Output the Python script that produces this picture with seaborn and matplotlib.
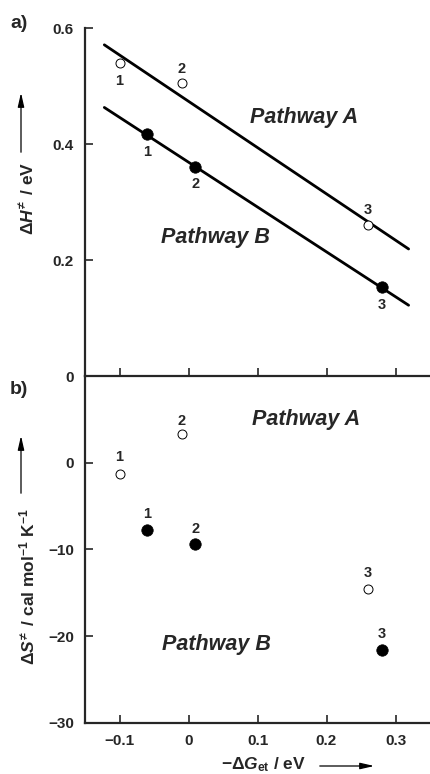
import matplotlib
matplotlib.use("Agg")
import matplotlib.pyplot as plt
from matplotlib.patches import FancyArrowPatch
import seaborn as sns

# ---------------- data ----------------
dG = [-0.10, -0.01, 0.26]            # -ΔG_et for pathway A (open)
dG_B = [-0.06, 0.01, 0.28]           # -ΔG_et for pathway B (filled)
dH_A = [0.539, 0.505, 0.260]
dH_B = [0.417, 0.361, 0.153]
dS_A = [-1.3, 3.3, -14.6]
dS_B = [-7.8, -9.4, -21.6]
point_labels = ["1", "2", "3"]
lineA_x = [-0.122, 0.319]
lineA_y = [0.571, 0.219]
lineB_x = [-0.122, 0.319]
lineB_y = [0.463, 0.122]
x_ticks = [-0.1, 0, 0.1, 0.2, 0.3]
x_ticklabels = ["\u22120.1", "0", "0.1", "0.2", "0.3"]
yH_ticks = [0, 0.2, 0.4, 0.6]
yH_ticklabels = ["0", "0.2", "0.4", "0.6"]
yS_ticks = [-30, -20, -10, 0]
yS_ticklabels = ["\u221230", "\u221220", "\u221210", "0"]

sns.set_style("ticks")
plt.rcParams["font.family"] = ["Liberation Sans", "DejaVu Sans"]
plt.rcParams["font.weight"] = "bold"
plt.rcParams["mathtext.fontset"] = "custom"
plt.rcParams["mathtext.rm"] = "Liberation Sans:bold"
plt.rcParams["mathtext.bf"] = "Liberation Sans:bold"
plt.rcParams["mathtext.it"] = "Liberation Sans:bold:italic"
plt.rcParams["mathtext.default"] = "rm"

W, H = 430, 774
fig = plt.figure(figsize=(W / 100, H / 100), dpi=100)

left = 85 / W
y_top = 1 - 28 / H
y_mid = 1 - 376 / H
y_bot = 1 - 722.7 / H
ax1 = fig.add_axes([left, y_mid, 1 - left, y_top - y_mid])
ax2 = fig.add_axes([left, y_bot, 1 - left, y_mid - y_bot])

TICKFS = 11
for ax in (ax1, ax2):
    ax.set_xlim(-0.15, 0.35)
    for s in ("top", "right"):
        ax.spines[s].set_visible(False)
    ax.spines["left"].set_linewidth(1.6)
    ax.spines["bottom"].set_linewidth(1.6)
    ax.tick_params(direction="in", width=1.2, length=6, labelsize=TICKFS, pad=8)
    ax.set_xticks(x_ticks)
    ax.patch.set_alpha(0)

OPEN_S, FILL_S = 42, 68

# ---- panel a ----
sns.lineplot(x=lineA_x, y=lineA_y, ax=ax1, color="black", linewidth=2.0)
sns.lineplot(x=lineB_x, y=lineB_y, ax=ax1, color="black", linewidth=2.0)
sns.scatterplot(x=dG, y=dH_A, ax=ax1, s=OPEN_S, facecolor="white", edgecolor="black",
                linewidth=0.7, zorder=5)
sns.scatterplot(x=dG_B, y=dH_B, ax=ax1, s=FILL_S, color="black", edgecolor="black",
                linewidth=0.5, zorder=5)
ax1.set_ylim(0, 0.6)
ax1.set_yticks(yH_ticks)
ax1.set_yticklabels(yH_ticklabels, fontweight="bold")
ax1.set_xticklabels([])
offA = [-13, 10, 11]
for xv, yv, lab, o in zip(dG, dH_A, point_labels, offA):
    ax1.annotate(lab, (xv, yv), xytext=(0, o), textcoords="offset points",
                 ha="center", va="center", fontsize=10.5, fontweight="bold")
for xv, yv, lab in zip(dG_B, dH_B, point_labels):
    ax1.annotate(lab, (xv, yv), xytext=(0, -12.5), textcoords="offset points",
                 ha="center", va="center", fontsize=10.5, fontweight="bold")
PFS = 15.5
ax1.text(0.167, 0.445, "Pathway A", ha="center", va="center", fontsize=PFS,
         fontweight="bold", fontstyle="italic")
ax1.text(0.039, 0.238, "Pathway B", ha="center", va="center", fontsize=PFS,
         fontweight="bold", fontstyle="italic")

# ---- panel b ----
sns.scatterplot(x=dG, y=dS_A, ax=ax2, s=OPEN_S, facecolor="white", edgecolor="black",
                linewidth=0.7, zorder=5)
sns.scatterplot(x=dG_B, y=dS_B, ax=ax2, s=FILL_S, color="black", edgecolor="black",
                linewidth=0.5, zorder=5)
ax2.set_ylim(-30, 10)
ax2.set_yticks(yS_ticks)
ax2.set_yticklabels(yS_ticklabels, fontweight="bold")
ax2.set_xticklabels(x_ticklabels, fontweight="bold")
offS_A = [12, 9.5, 12]
offS_B = [12, 11, 11.5]
for xv, yv, lab, o in zip(dG, dS_A, point_labels, offS_A):
    ax2.annotate(lab, (xv, yv), xytext=(0, o), textcoords="offset points",
                 ha="center", va="center", fontsize=10.5, fontweight="bold")
for xv, yv, lab, o in zip(dG_B, dS_B, point_labels, offS_B):
    ax2.annotate(lab, (xv, yv), xytext=(0, o), textcoords="offset points",
                 ha="center", va="center", fontsize=10.5, fontweight="bold")
ax2.text(0.17, 5.0, "Pathway A", ha="center", va="center", fontsize=PFS,
         fontweight="bold", fontstyle="italic")
ax2.text(0.04, -21.0, "Pathway B", ha="center", va="center", fontsize=PFS,
         fontweight="bold", fontstyle="italic")

# ---- labels ----
def fx(px):
    return px / W

def fy(py):
    return 1 - py / H

fig.text(fx(19), fy(24), "a)", fontsize=14, fontweight="bold", ha="center", va="center")
fig.text(fx(19), fy(390), "b)", fontsize=14, fontweight="bold", ha="center", va="center")

fig.text(fx(27), fy(198), r"$\Delta\mathit{H}^{\!\neq}$ / eV", rotation=90,
         ha="center", va="center", fontsize=12.5)
fig.text(fx(27), fy(587), r"$\Delta\mathit{S}^{\!\neq}$ / cal mol$^{-1}$ K$^{-1}$",
         rotation=90, ha="center", va="center", fontsize=12.5)
fig.text(fx(264), fy(765), r"$-\Delta\mathit{G}_{\mathrm{et}}$ / eV",
         ha="center", va="center", fontsize=12.5)

ASTYLE = "-|>,head_length=0.7,head_width=0.16"
for p0, p1 in [((21, 155), (21, 90)), ((21, 496), (21, 433)), ((317, 766), (377, 766))]:
    fig.add_artist(FancyArrowPatch((fx(p0[0]), fy(p0[1])), (fx(p1[0]), fy(p1[1])),
                                   transform=fig.transFigure, arrowstyle=ASTYLE,
                                   color="black", lw=0.9, mutation_scale=12))

fig.savefig("out.png", dpi=100)
